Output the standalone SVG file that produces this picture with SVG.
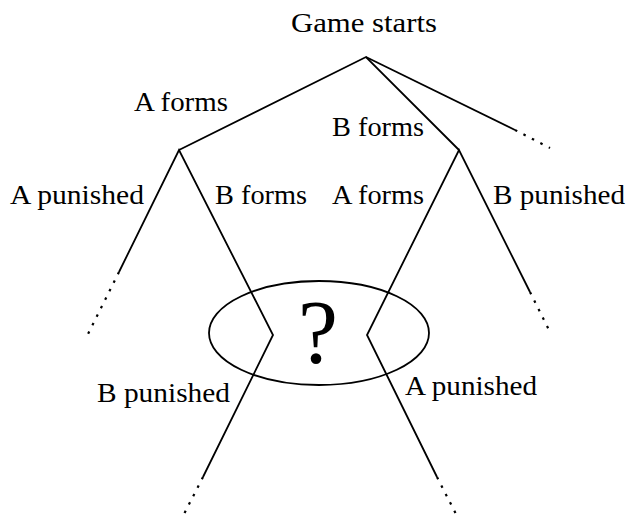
<svg xmlns="http://www.w3.org/2000/svg" width="627" height="517" viewBox="0 0 627 517">
<style>
.l{fill:none;stroke:#000;stroke-width:1.8;stroke-linecap:butt;stroke-linejoin:miter}
.d{fill:none;stroke:#000;stroke-width:2.2;stroke-dasharray:2.5 7}
</style>
<rect width="627" height="517" fill="#fff"/>
<g id="connectors">
<polyline class="l" points="179,150 366,57 459,150"/>
<line class="l" x1="366" y1="57" x2="515" y2="130"/>
<line class="d" x1="515" y1="130" x2="550" y2="148"/>
<polyline class="l" points="119,272 179,150 273,335 203,477"/>
<line class="d" x1="203" y1="477" x2="182" y2="518"/>
<line class="d" x1="119" y1="272" x2="88" y2="334"/>
<polyline class="l" points="530,292 459,150 367,335 437,477"/>
<line class="d" x1="530" y1="292" x2="551" y2="334"/>
<line class="d" x1="437" y1="477" x2="458" y2="518"/>
</g>
<g font-family="Liberation Serif, Times New Roman, serif" font-size="27" fill="#000">
<g id="root"><text x="291" y="32" textLength="146" lengthAdjust="spacingAndGlyphs">Game starts</text></g>
<g id="label-a-forms-1"><text x="134" y="111" textLength="94" lengthAdjust="spacingAndGlyphs">A forms</text></g>
<g id="label-b-forms-1"><text x="332" y="136" textLength="92" lengthAdjust="spacingAndGlyphs">B forms</text></g>
<g id="label-a-punished-1"><text x="10" y="204" textLength="134" lengthAdjust="spacingAndGlyphs">A punished</text></g>
<g id="label-b-forms-2"><text x="215" y="204" textLength="92" lengthAdjust="spacingAndGlyphs">B forms</text></g>
<g id="label-a-forms-2"><text x="332" y="204" textLength="92" lengthAdjust="spacingAndGlyphs">A forms</text></g>
<g id="label-b-punished-1"><text x="493" y="204" textLength="132" lengthAdjust="spacingAndGlyphs">B punished</text></g>
<g id="label-b-punished-2"><text x="97" y="402" textLength="133" lengthAdjust="spacingAndGlyphs">B punished</text></g>
<g id="label-a-punished-2"><text x="405" y="395" textLength="132" lengthAdjust="spacingAndGlyphs">A punished</text></g>
<g id="unknown">
<ellipse cx="319" cy="333" rx="110" ry="52" fill="none" stroke="#000" stroke-width="1.8"/>
<text x="318" y="363" text-anchor="middle" font-size="90">?</text>
</g>
</g>
</svg>
